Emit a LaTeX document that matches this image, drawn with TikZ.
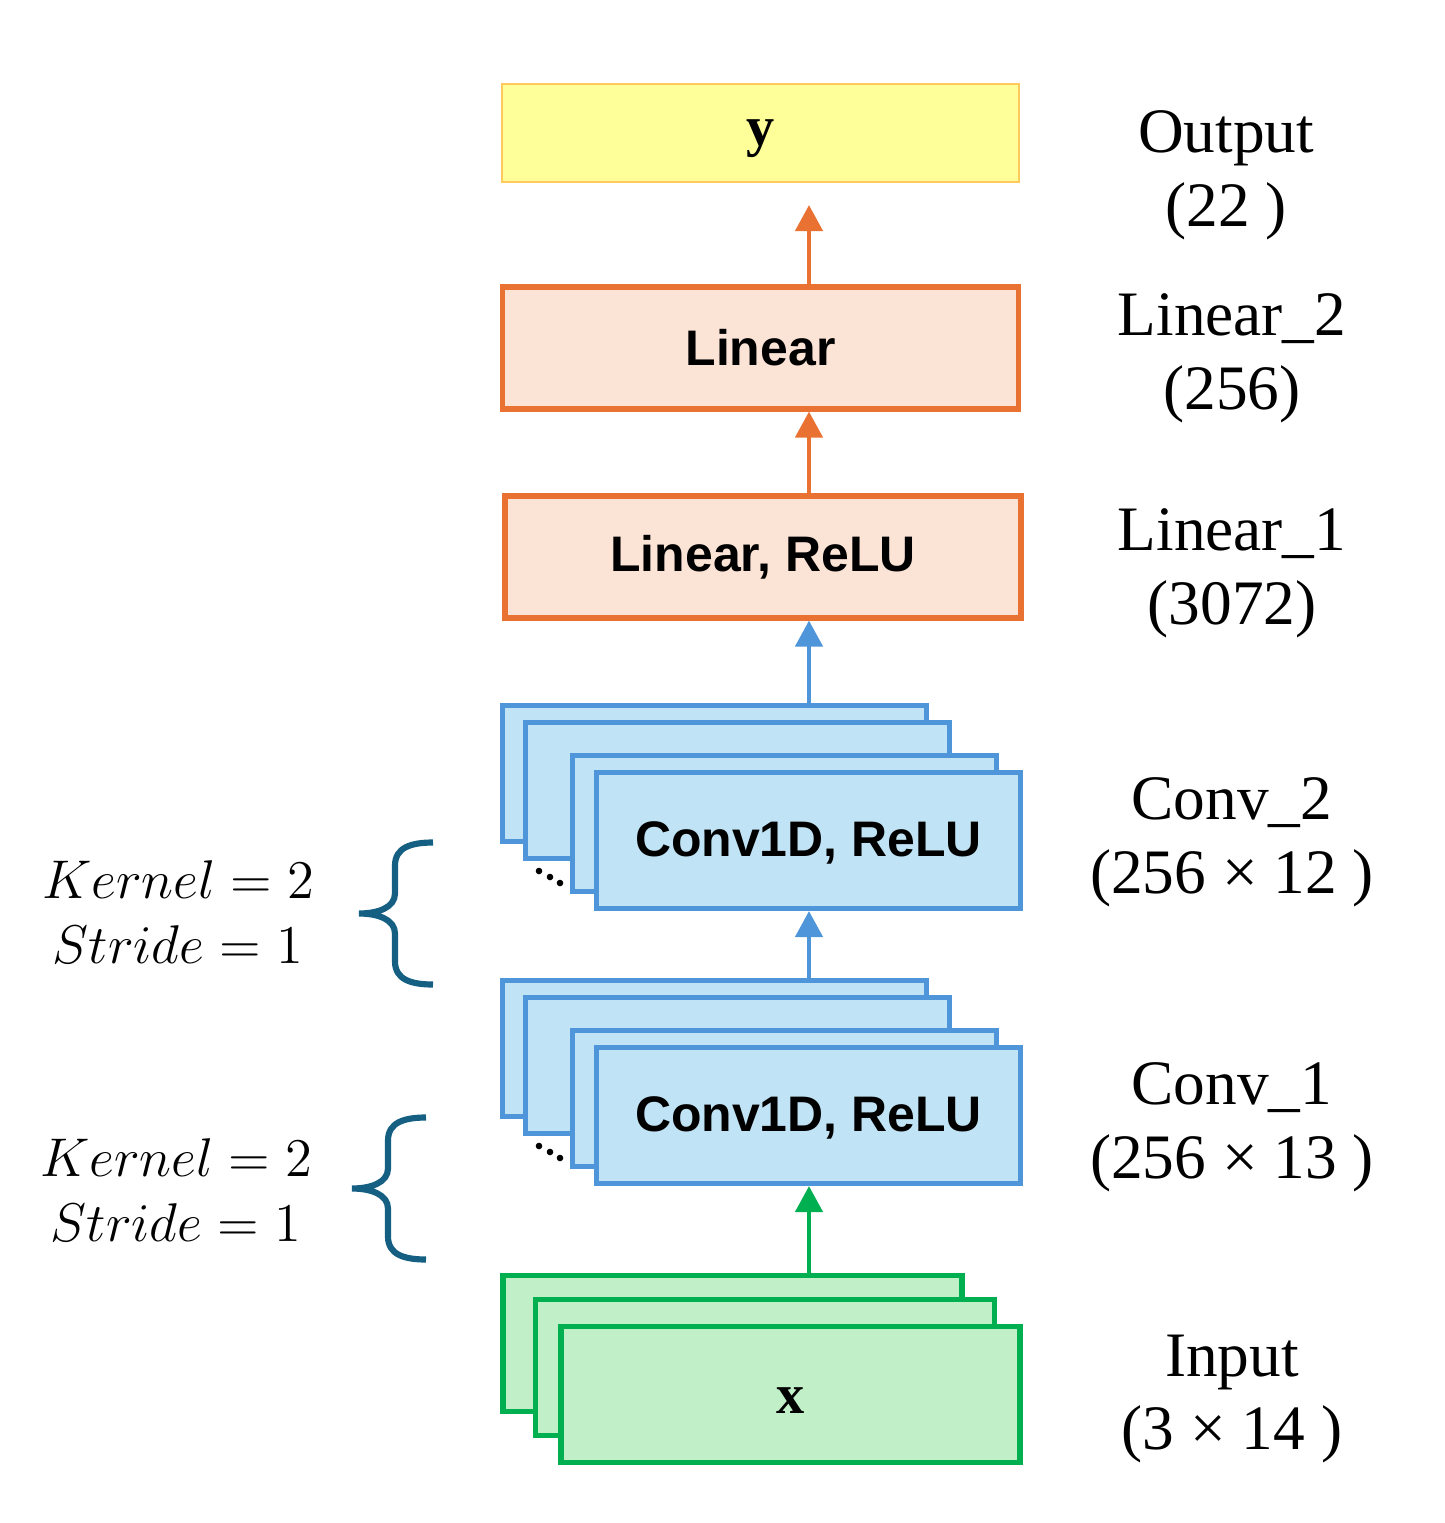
\documentclass[tikz,border=0pt]{standalone}
\usepackage{graphicx}
\usepackage{fontspec}
\setmainfont{Liberation Serif}
\newfontfamily\boxfont{Liberation Sans}
\usetikzlibrary{arrows.meta}

\definecolor{orgline}{HTML}{E97132}
\definecolor{orgfill}{HTML}{FBE3D6}
\definecolor{bluline}{HTML}{4E95D9}
\definecolor{blufill}{HTML}{C0E4F5}
\definecolor{grnline}{HTML}{00B050}
\definecolor{grnfill}{HTML}{C1F0C8}
\definecolor{ylwfill}{HTML}{FFFF99}
\definecolor{ylwline}{HTML}{FFC95C}
\definecolor{bracecol}{HTML}{156082}

\newcommand{\hyp}[1]{\scalebox{1.077}{$#1$}}

\tikzset{curly/.pic={
    \draw[bracecol,line width=1.75pt] (0,-71) .. controls (-22,-71) and (-38,-66) .. (-38,-48) -- (-38,-20)
      .. controls (-38,-6) and (-55,0) .. (-74,0) .. controls (-55,0) and (-38,6) .. (-38,20) -- (-38,48)
      .. controls (-38,66) and (-22,71) .. (0,71);
  }}

\begin{document}
\begin{tikzpicture}[x=0.01cm,y=-0.01cm,
    boxtext/.style={font=\boxfont\bfseries\fontsize{14.2}{17}\selectfont},
    outbox/.style={draw=ylwline,fill=ylwfill,line width=0.02cm,inner sep=0,minimum width=5.17cm,minimum height=0.98cm,
      font=\bfseries\fontsize{16}{18}\selectfont,text height=0.34cm,text depth=0.1cm},
    linbox/.style={boxtext,draw=orgline,fill=orgfill,line width=0.055cm,inner sep=0,minimum width=5.16cm,minimum height=1.215cm},
    convbox/.style={boxtext,draw=bluline,fill=blufill,line width=0.055cm,inner sep=0,minimum width=4.235cm,minimum height=1.355cm,
      text height=0.36cm,text depth=0.04cm},
    inbox/.style={draw=grnline,fill=grnfill,line width=0.055cm,inner sep=0,minimum width=4.585cm,minimum height=1.355cm,
      font=\bfseries\fontsize{16}{18}\selectfont,text height=0.37cm,text depth=0cm},
    dimlabel/.style={font=\fontsize{18}{21}\selectfont,align=center},
    hyper/.style={font=\fontsize{14.4}{18.5}\selectfont,align=center},
    flow/.style={line width=0.045cm,-{Triangle[length=0.26cm,width=0.27cm]}}]
  \useasboundingbox (0,0) rectangle (1445,1523);

  % layers
  \node[outbox] (yout) at (760.5,133) {y};
  \node[linbox] (lin2) at (760.5,348) {Linear};
  \node[linbox] (lin1) at (763,557) {Linear, ReLU};

  \foreach \k/\y in {2/773.5,1/1048.5} {
    \foreach[count=\i] \dx/\dy/\t in {0/0/{},23/17/{},70/50/{},94/67/{Conv1D, ReLU}} {
      \node[convbox] (conv\k\i) at (714.5+\dx,\y+\dy) {\t};
    }
    \foreach \dx/\dy in {539/97.5,550/103.5,560/109.5}
      \fill (\dx,\y+\dy) circle[radius=0.033cm];
  }

  \foreach[count=\i] \dx/\dy/\t in {0/0/{},32.5/24/{},58/51/{x}} {
    \node[inbox] (inp\i) at (732.5+\dx,1343.5+\dy) {\t};
  }

  % connectors
  \coordinate (spine) at (809,0);
  \draw[flow,orgline,shorten >=0.22cm] (lin2.north -| spine) -- (yout.south -| spine);
  \draw[flow,orgline] (lin1.north -| spine) -- (lin2.south -| spine);
  \draw[flow,bluline] (conv21.north -| spine) -- (lin1.south -| spine);
  \draw[flow,bluline] (conv11.north -| spine) -- (conv24.south -| spine);
  \draw[flow,grnline] (inp1.north -| spine) -- (conv14.south -| spine);

  % sizes on the right
  \node[dimlabel] (lblout) at (1226,175) {Output\\(22 )};
  \node[dimlabel] (lbllin2) at (1232,358) {Linear\_2\\(256)};
  \node[dimlabel] (lbllin1) at (1232,573) {Linear\_1\\(3072)};
  \node[dimlabel] (lblconv2) at (1232,842) {Conv\_2\\(256 × 12 )};
  \node[dimlabel] (lblconv1) at (1232,1127) {Conv\_1\\(256 × 13 )};
  \node[dimlabel] (lblinp) at (1232,1399) {Input\\(3 × 14 )};

  % kernel and stride
  \pic at (433,913.5) {curly};
  \pic at (426,1188.5) {curly};
  \node[hyper] (hyp2) at (178,912) {\hyp{Kernel = 2}\\\hyp{Stride = 1}};
  \node[hyper] (hyp1) at (176,1190) {\hyp{Kernel = 2}\\\hyp{Stride = 1}};
\end{tikzpicture}
\end{document}
